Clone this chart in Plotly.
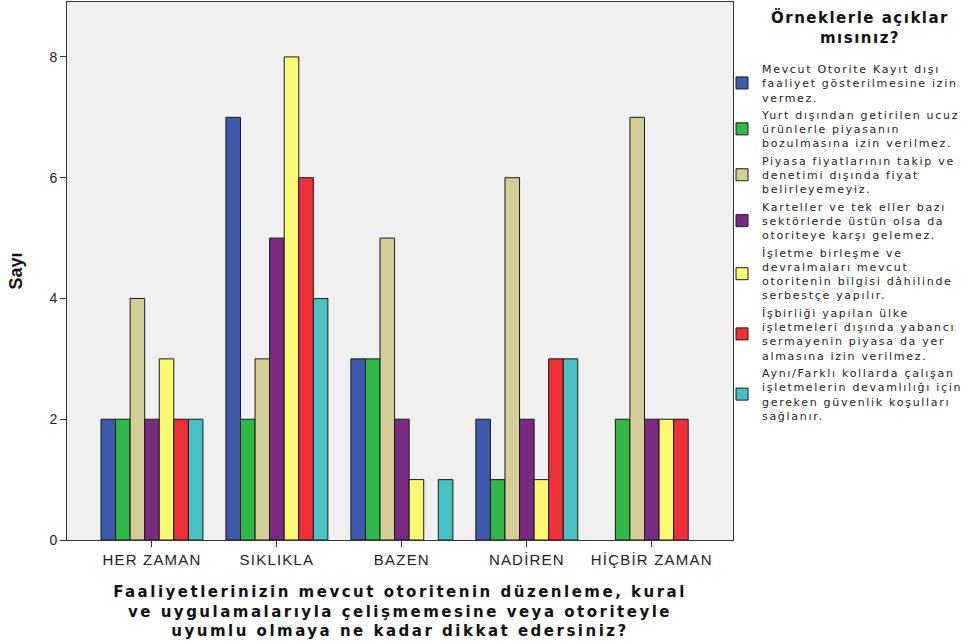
import plotly.graph_objects as go

categories = ["HER ZAMAN", "SIKLIKLA", "BAZEN", "NADİREN", "HİÇBİR ZAMAN"]

series_names = [
    "Mevcut Otorite Kayıt dışı<br>faaliyet gösterilmesine izin<br>vermez.",
    "Yurt dışından getirilen ucuz<br>ürünlerle piyasanın<br>bozulmasına izin verilmez.",
    "Piyasa fiyatlarının takip ve<br>denetimi dışında fiyat<br>belirleyemeyiz.",
    "Karteller ve tek eller bazı<br>sektörlerde üstün olsa da<br>otoriteye karşı gelemez.",
    "İşletme birleşme ve<br>devralmaları mevcut<br>otoritenin bilgisi dâhilinde<br>serbestçe yapılır.",
    "İşbirliği yapılan ülke<br>işletmeleri dışında yabancı<br>sermayenin piyasa da yer<br>almasına izin verilmez.",
    "Aynı/Farklı kollarda çalışan<br>işletmelerin devamlılığı için<br>gereken güvenlik koşulları<br>sağlanır.",
]

s1 = [2, 7, 3, 2, None]
s2 = [2, 2, 3, 1, 2]
s3 = [4, 3, 5, 6, 7]
s4 = [2, 5, 2, 2, 2]
s5 = [3, 8, 1, 1, 2]
s6 = [2, 6, None, 3, 2]
s7 = [2, 4, 1, 3, None]
series_values = [s1, s2, s3, s4, s5, s6, s7]

colors = ["#3E58AC", "#2EB848", "#D3CE97", "#782B80", "#FBF873", "#EF3038", "#48C1C4"]

y_ticks = [0, 2, 4, 6, 8]

legend_title = "Örneklerle açıklar<br>mısınız?"
x_title = ("Faaliyetlerinizin mevcut otoritenin düzenleme, kural<br>"
           "ve uygulamalarıyla çelişmemesine veya otoriteyle<br>"
           "uyumlu olmaya ne kadar dikkat edersiniz?")


def spaced(text, px, bold=False):
    lines = text.split("<br>")
    out = []
    for ln in lines:
        s = f'<span style="letter-spacing:{px}px">{ln}</span>'
        if bold:
            s = f"<b>{s}</b>"
        out.append(s)
    return "<br>".join(out)


fig = go.Figure()
for name, vals, col in zip(series_names, series_values, colors):
    fig.add_trace(go.Bar(
        x=categories, y=vals, name=spaced(name, 1.7),
        marker=dict(color=col, line=dict(color="#1a1a1a", width=1)),
    ))

SANS = "Liberation Sans, Arial, sans-serif"
WIDE = "DejaVu Sans, Verdana, sans-serif"

PL, PR, PT, PB = 67, 238, 2, 104
PW = 971 - PL - PR
PH = 644 - PT - PB

fig.update_layout(
    width=971, height=644,
    margin=dict(l=PL, r=PR, t=PT, b=PB, autoexpand=False),
    paper_bgcolor="white",
    plot_bgcolor="#F0F0F0",
    barmode="group",
    bargap=0.184,
    bargroupgap=0,
    font=dict(family=SANS, color="#222222", size=13),
    legend=dict(
        x=(722 - PL) / PW, xanchor="left",
        y=1 - (55 - PT) / PH, yanchor="top",
        font=dict(size=11, family=WIDE, color="#222222"),
        bgcolor="rgba(0,0,0,0)",
        valign="middle",
    ),
    annotations=[dict(
        text=spaced(legend_title, 1.5, bold=True), xref="paper", yref="paper",
        x=(860 - PL) / PW, y=1 - (6 - PT) / PH,
        xanchor="center", yanchor="top", showarrow=False,
        font=dict(size=15, family=WIDE, color="#111111"),
    )],
    xaxis=dict(
        type="category",
        range=[-0.68, 4.65],
        tickvals=categories,
        ticktext=[spaced(c, 1.2) for c in categories],
        showline=True, linecolor="#333333", linewidth=1, mirror=True,
        ticks="outside", ticklen=6, tickcolor="#333333",
        tickfont=dict(size=15, family=SANS, color="#222222"),
        showgrid=False,
        title=dict(
            text=spaced(x_title, 2.5, bold=True),
            font=dict(size=15, family=WIDE, color="#111111"),
            standoff=19,
        ),
    ),
    yaxis=dict(
        range=[0, 8.91],
        tickvals=y_ticks,
        showline=True, linecolor="#333333", linewidth=1, mirror=True,
        ticks="outside", ticklen=6, tickcolor="#333333",
        tickfont=dict(size=14, family=SANS, color="#222222"),
        showgrid=False, zeroline=False,
        title=dict(text="<b>Sayı</b>", font=dict(size=18, family=SANS, color="#111111"), standoff=22),
    ),
)

fig.write_html("out.html", config={"displayModeBar": False},
               post_script="document.body.style.margin='0';")
